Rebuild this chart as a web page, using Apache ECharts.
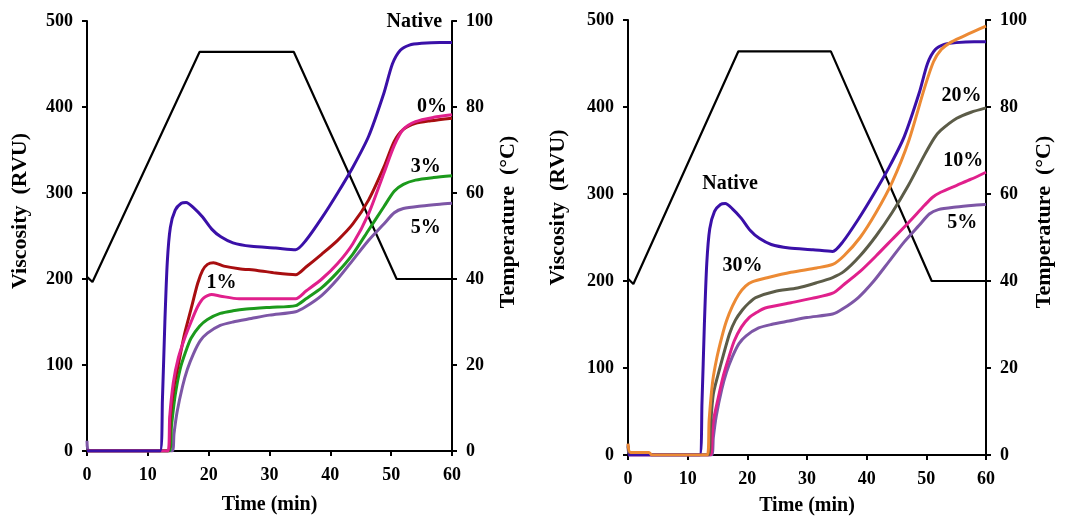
<!DOCTYPE html>
<html>
<head>
<meta charset="utf-8">
<script src="https://cdn.jsdelivr.net/npm/echarts@6/dist/echarts.min.js"></script>
<style>
html,body{margin:0;padding:0;background:#fff;}
#chart{width:1070px;height:517px;}
</style>
</head>
<body>
<div id="chart"></div>
<script>
// ---- Data (time in min, viscosity in RVU, temperature in °C) ----
var xTicks = [0, 10, 20, 30, 40, 50, 60];
var viscTicks = [0, 100, 200, 300, 400, 500];
var tempTicks = [0, 20, 40, 60, 80, 100];

var temperature = [[0,40.5],[0.9,39.3],[18.5,92.8],[34,92.8],[50.9,40],[60,40]];

var nativeStarch = [[0,0],[12,0],[12.4,60],[12.8,150],[13.2,220],[13.7,260],[14.5,280],[15.5,288],[16.3,289],[17.5,283],[19,272],[20.5,258],[22,249],[24,242],[27,238],[31,236],[34.3,234],[36,245],[38.6,271],[41.2,300],[43.7,330],[46.3,366],[48.8,416],[50.2,450],[51.5,466],[53,472],[55,474],[58,475],[60,475]];

var p0 = [[0,0],[13.3,0],[13.6,40],[14.2,80],[15,108],[16,130],[17.1,150],[18.2,168],[19.2,178],[20.5,182],[22,180],[25,177],[30,177],[34.3,177],[36,186],[38.6,200],[41.2,218],[43.7,241],[46.3,276],[48.8,323],[50.5,355],[52,374],[54,383],[57,388],[60,391]];

var p1 = [[0,0],[13.3,0],[13.7,40],[14.3,75],[15,100],[16,135],[17.1,165],[18.2,195],[19,210],[19.8,217],[20.8,219],[22.5,215],[25,212],[28,210],[31,207],[34.3,205],[36,214],[38.6,229],[41.2,245],[43.7,264],[46.3,292],[48.8,330],[50.5,360],[52,374],[54,381],[56.5,384],[60,387]];

var p3 = [[0,0],[13.5,0],[13.9,30],[14.5,65],[15.3,95],[16.2,115],[17.1,131],[18.5,145],[19.8,153],[21.9,160],[24,163],[26.2,165],[30,167],[34.3,169],[36,177],[38.6,190],[41.2,208],[43.7,229],[46.3,257],[48.8,284],[50.5,302],[52,310],[54,315],[57,318],[60,320]];

var p5 = [[0,12],[0.3,0],[14,0],[14.3,20],[14.8,45],[15.7,75],[16.5,95],[17.5,113],[18.6,128],[19.8,137],[21.9,146],[24,150],[27,154],[30,158],[34.3,162],[36,168],[38.6,181],[41.2,200],[43.7,222],[46.3,245],[48.8,264],[50.5,277],[52,282],[55,285],[58,287],[60,288]];

var p10 = [[0,0],[13.8,0],[14.1,20],[14.3,39],[15.1,65],[15.9,89],[16.8,110],[17.8,131],[19,147],[20.3,158],[21.6,164],[23,169],[27.3,175],[30.8,180],[34.3,186],[36.2,196],[38.9,211],[41.6,229],[44.3,248],[47,267],[49.7,287],[51,296],[52.4,302],[55.1,310],[57.5,317],[60,325]];

var p20 = [[0,10],[0.4,2],[3.5,2],[4,0],[13.5,0],[13.8,30],[14.3,70],[15.4,100],[17,139],[18,155],[19.2,167],[20.3,175],[21.4,181],[24.6,188],[28.4,192],[31.6,198],[34.3,204],[36.2,211],[38.9,229],[41.6,252],[44.3,279],[47,310],[49.7,345],[51.3,364],[52.4,373],[55.1,387],[57.5,394],[60,399]];

var p30 = [[0,13],[0.4,3],[3.5,3],[4,0],[13.3,0],[13.6,40],[14.2,85],[14.9,112],[15.7,135],[16.5,154],[17.5,171],[18.6,185],[19.7,194],[20.8,199],[23.5,204],[27.3,210],[31.6,215],[34.3,219],[36.2,229],[38.9,250],[41.6,279],[44.3,314],[47,360],[49.7,422],[51.2,452],[52.5,466],[54,474],[56.1,481],[58,487],[60,493]];

// annotation labels: [time, viscosity, text]
var labelsLeft = [[53.8,499,'Native'],[56.7,400,'0%'],[55.7,330,'3%'],[55.7,260,'5%'],[22.1,195,'1%']];
var labelsRight = [[17.1,312,'Native'],[19.2,218,'30%'],[55.9,413,'20%'],[56.2,338,'10%'],[56.0,267,'5%']];

// ---- Styling ----
var FONT = "'Liberation Serif','Times New Roman',serif";
var col = {
  native: '#3a10a8', p0: '#e0208c', p1: '#a80e10', p3: '#1c9a1c', p5: '#7d56a6',
  p10: '#e0208c', p20: '#5c5c48', p30: '#ec8a34', temp: '#000000'
};

function xAxisDef(gi, gap) {
  return {
    type: 'value', gridIndex: gi, min: 0, max: 60, interval: 10,
    name: 'Time (min)', nameLocation: 'middle', nameGap: gap,
    nameTextStyle: {fontFamily: FONT, fontWeight: 'bold', fontSize: 20, color: '#000'},
    axisLine: {lineStyle: {color: '#000', width: 2}},
    axisTick: {show: true, inside: false, length: 5, lineStyle: {color: '#000', width: 2}},
    axisLabel: {fontFamily: FONT, fontWeight: 'bold', fontSize: 18, color: '#000', margin: 15,
      formatter: function (v) { return xTicks.indexOf(v) >= 0 ? String(v) : ''; }},
    splitLine: {show: false}
  };
}
function yViscDef(gi, gap, shift) {
  return {
    type: 'value', gridIndex: gi, min: 0, max: 500, interval: 100, position: 'left',
    name: 'Viscosity  (RVU)', nameLocation: 'middle', nameGap: gap, nameRotate: 90,
    nameTextStyle: {fontFamily: FONT, fontWeight: 'bold', fontSize: 22, color: '#000', padding: [0, 0, 0, shift]},
    axisLine: {show: true, lineStyle: {color: '#000', width: 2}},
    axisTick: {show: true, inside: false, length: 5, lineStyle: {color: '#000', width: 2}},
    axisLabel: {fontFamily: FONT, fontWeight: 'bold', fontSize: 18, color: '#000', margin: 14,
      formatter: function (v) { return viscTicks.indexOf(v) >= 0 ? String(v) : ''; }},
    splitLine: {show: false}
  };
}
function yTempDef(gi, gap, shift) {
  return {
    type: 'value', gridIndex: gi, min: 0, max: 100, interval: 20, position: 'right',
    name: 'Temperature  (°C)', nameLocation: 'middle', nameGap: gap, nameRotate: 90,
    nameTextStyle: {fontFamily: FONT, fontWeight: 'bold', fontSize: 22, color: '#000', padding: [0, 0, 0, shift]},
    axisLine: {show: true, lineStyle: {color: '#000', width: 2}},
    axisTick: {show: true, inside: false, length: 5, lineStyle: {color: '#000', width: 2}},
    axisLabel: {fontFamily: FONT, fontWeight: 'bold', fontSize: 18, color: '#000', margin: 14,
      formatter: function (v) { return tempTicks.indexOf(v) >= 0 ? String(v) : ''; }},
    splitLine: {show: false}
  };
}
function lineSeries(data, color, xi, yi, width, smooth) {
  return {
    type: 'line', data: data, xAxisIndex: xi, yAxisIndex: yi,
    showSymbol: false, symbol: 'none', smooth: smooth,
    lineStyle: {color: color, width: width}, z: 3
  };
}
function labelSeries(data, xi, yi) {
  return {
    type: 'scatter', data: data, xAxisIndex: xi, yAxisIndex: yi,
    symbolSize: 0, silent: true, z: 10,
    itemStyle: {opacity: 1, color: '#000'},
    label: {show: true, position: 'inside', fontFamily: FONT, fontWeight: 'bold', fontSize: 20,
      color: '#000', textBorderWidth: 0, opacity: 1,
      formatter: function (p) { return p.value[2]; }}
  };
}

var chart = echarts.init(document.getElementById('chart'), null, {renderer: 'canvas'});
chart.setOption({
  animation: false,
  backgroundColor: '#fff',
  grid: [
    {left: 87, right: 618, top: 21, bottom: 66, containLabel: false, outerBoundsMode: 'none'},
    {left: 628, right: 84, top: 20, bottom: 62, containLabel: false, outerBoundsMode: 'none'}
  ],
  xAxis: [xAxisDef(0, 44), xAxisDef(1, 41)],
  yAxis: [yViscDef(0, 56, 50), yTempDef(0, 41, 28), yViscDef(1, 59, 60), yTempDef(1, 47, 31)],
  series: [
    lineSeries(temperature, col.temp, 0, 1, 2.2, false),
    lineSeries(p5, col.p5, 0, 0, 3, 0.25),
    lineSeries(p3, col.p3, 0, 0, 3, 0.25),
    lineSeries(p1, col.p1, 0, 0, 3, 0.25),
    lineSeries(p0, col.p0, 0, 0, 3, 0.25),
    lineSeries(nativeStarch, col.native, 0, 0, 3, 0.25),
    labelSeries(labelsLeft, 0, 0),

    lineSeries(temperature, col.temp, 1, 3, 2.2, false),
    lineSeries(p5, col.p5, 1, 2, 3, 0.25),
    lineSeries(p10, col.p10, 1, 2, 3, 0.25),
    lineSeries(p20, col.p20, 1, 2, 3, 0.25),
    lineSeries(nativeStarch, col.native, 1, 2, 3, 0.25),
    lineSeries(p30, col.p30, 1, 2, 3, 0.25),
    labelSeries(labelsRight, 1, 2)
  ]
});
</script>
</body>
</html>
